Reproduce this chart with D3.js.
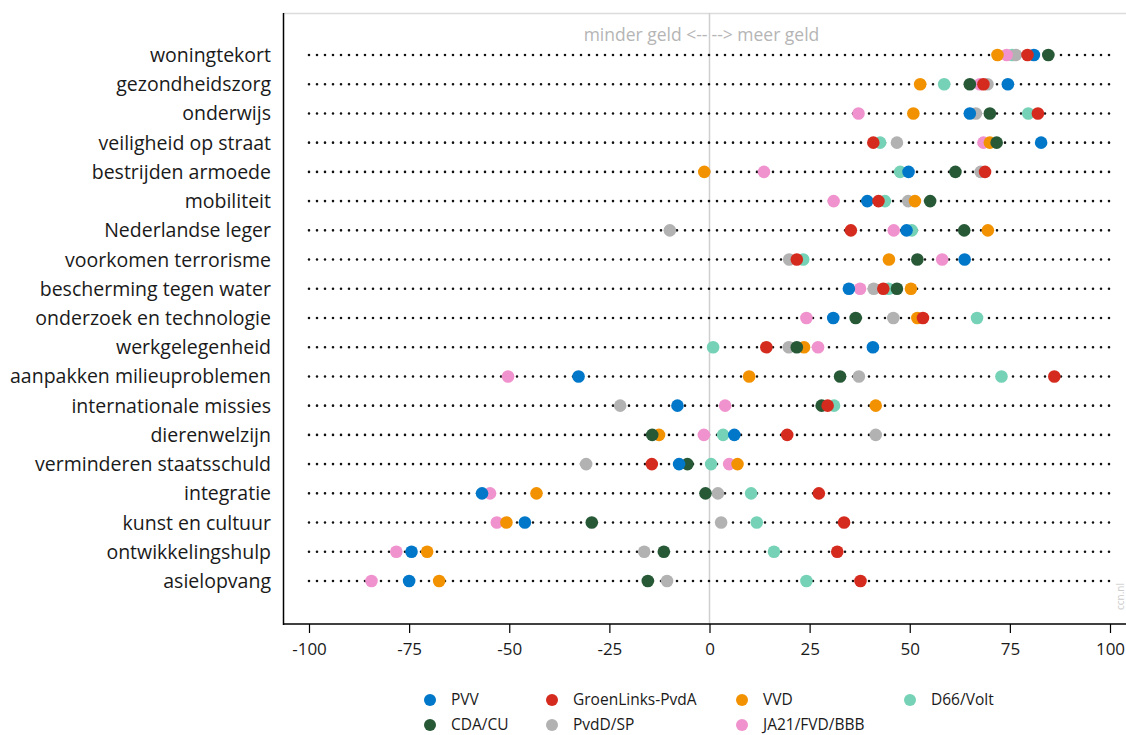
<!DOCTYPE html>
<html>
<head>
<meta charset="utf-8">
<script src="https://cdn.jsdelivr.net/npm/d3@7"></script>
<style>
  body { margin: 0; background: #fff; }
  svg { display: block; font-family: "Open Sans", "Noto Sans", sans-serif; }
</style>
</head>
<body>
<svg id="chart" width="1126" height="735"></svg>
<script>
const categories = ["woningtekort","gezondheidszorg","onderwijs","veiligheid op straat","bestrijden armoede","mobiliteit","Nederlandse leger","voorkomen terrorisme","bescherming tegen water","onderzoek en technologie","werkgelegenheid","aanpakken milieuproblemen","internationale missies","dierenwelzijn","verminderen staatsschuld","integratie","kunst en cultuur","ontwikkelingshulp","asielopvang"];
const parties = ["PVV","GroenLinks-PvdA","VVD","D66/Volt","CDA/CU","PvdD/SP","JA21/FVD/BBB"];
const colors = ["#0077c8","#d52b1e","#f39200","#76d2b6","#275937","#b2b2b2","#f092cd"];
const PVV   = [81, 74.5, 65, 82.8, 49.7, 39.4, 49.2, 63.7, 34.8, 30.9, 40.8, -32.7, -8, 6.2, -7.6, -56.8, -46.1, -74.4, -75];
const GL    = [79.4, 68.4, 82, 40.9, 68.8, 42.2, 35.3, 21.8, 43.4, 53.3, 14.2, 86.1, 29.5, 19.4, -14.4, 27.3, 33.6, 31.9, 37.7];
const VVD   = [71.9, 52.6, 50.9, 70, -1.3, 51.3, 69.5, 44.8, 50.3, 51.9, 23.6, 9.9, 41.5, -12.6, 7, -43.2, -50.7, -70.5, -67.5];
const D66   = [75.6, 58.6, 79.6, 42.6, 47.6, 43.8, 50.5, 23.4, 44.7, 66.8, 0.9, 72.9, 31.1, 3.4, 0.4, 10.4, 11.8, 16.1, 24.2];
const CDA   = [84.6, 65, 70, 71.7, 61.4, 55.1, 63.6, 51.9, 46.8, 36.5, 21.8, 32.6, 28, -14.3, -5.5, -1, -29.4, -11.4, -15.4];
const PvdD  = [76.5, 69.4, 66.5, 46.8, 67.7, 49.6, -9.9, 19.9, 41, 45.9, 19.8, 37.3, -22.3, 41.5, -30.8, 2.1, 2.9, -16.3, -10.6];
const JA21  = [74.2, 67.5, 37.2, 68.4, 13.6, 31, 46, 58.1, 37.6, 24.2, 27.1, -50.3, 3.9, -1.4, 4.9, -54.8, -53.1, -78.2, -84.4];
const seriesValues = [PVV, GL, VVD, D66, CDA, PvdD, JA21];
const tickValues = [-100, -75, -50, -25, 0, 25, 50, 75, 100];
const drawOrder = [3, 5, 6, 2, 4, 0, 1];

const svg = d3.select("#chart");
const x = d3.scaleLinear().domain([-100, 100]).range([309, 1110]);
const y = d3.scalePoint().domain(categories).range([55, 581]);

// frame
svg.append("line").attr("x1", 283).attr("x2", 1126).attr("y1", 13.5).attr("y2", 13.5).attr("stroke", "#dcdcdc").attr("stroke-width", 1.5);
svg.append("line").attr("x1", 283.5).attr("x2", 283.5).attr("y1", 13).attr("y2", 625).attr("stroke", "#000").attr("stroke-width", 1.5);
svg.append("line").attr("x1", x(0)).attr("x2", x(0)).attr("y1", 13).attr("y2", 624).attr("stroke", "#cfcfcf").attr("stroke-width", 1.5);

// dotted guide lines
svg.append("g").selectAll("line").data(categories).join("line")
  .attr("x1", x(-100)).attr("x2", x(100))
  .attr("y1", d => y(d)).attr("y2", d => y(d))
  .attr("stroke", "#111").attr("stroke-width", 2.6)
  .attr("stroke-linecap", "round").attr("stroke-dasharray", "0 8");

// category labels
svg.append("g").selectAll("text").data(categories).join("text")
  .attr("x", 271).attr("y", d => y(d)).attr("dy", "0.36em")
  .attr("text-anchor", "end").attr("font-size", 19.5).attr("fill", "#1a1a1a")
  .text(d => d);

// annotation
svg.append("text").attr("x", x(0) - 2).attr("y", 41).attr("text-anchor", "end")
  .attr("font-size", 17.5).attr("fill", "#b5b5b5").text("minder geld <--");
svg.append("text").attr("x", x(0) + 2).attr("y", 41).attr("text-anchor", "start")
  .attr("font-size", 17.5).attr("fill", "#b5b5b5").text("--> meer geld");

// dots
drawOrder.forEach(pi => {
  svg.append("g").selectAll("circle").data(seriesValues[pi]).join("circle")
    .attr("cx", d => x(d)).attr("cy", (d, i) => y(categories[i]))
    .attr("r", 6.3).attr("fill", colors[pi]);
});

// x axis
const axis = svg.append("g").attr("transform", "translate(0,624)")
  .call(d3.axisBottom(x).tickValues(tickValues).tickSize(9).tickPadding(10).tickFormat(d => String(d)));
axis.select(".domain").remove();
axis.selectAll(".tick line").attr("stroke", "#000").attr("stroke-width", 1.2);
axis.selectAll(".tick text").attr("font-size", 17).attr("fill", "#1a1a1a")
  .attr("font-family", "'Open Sans', sans-serif");
svg.append("line").attr("x1", 283).attr("x2", 1126).attr("y1", 624).attr("y2", 624).attr("stroke", "#000").attr("stroke-width", 1.5);

// watermark
svg.append("text").attr("transform", "translate(1124,610) rotate(-90)")
  .attr("font-size", 10).attr("fill", "#cccccc").text("ccn.nl");

// legend
const legX = [430, 552, 742, 910];
const legY = [700, 725];
const leg = svg.append("g").selectAll("g").data(parties).join("g")
  .attr("transform", (d, i) => `translate(${legX[i % 4]},${legY[Math.floor(i / 4)]})`);
leg.append("circle").attr("r", 6).attr("fill", (d, i) => colors[i]);
leg.append("text").attr("x", 21).attr("dy", "0.35em").attr("font-size", 15.5)
  .attr("fill", "#1a1a1a").text(d => d);
</script>
</body>
</html>
